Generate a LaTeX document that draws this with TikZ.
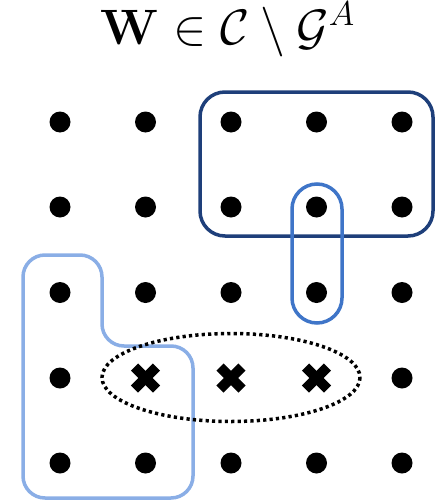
\documentclass[tikz,border=0pt]{standalone}
\usepackage{amsmath,amssymb}
\usepackage{tikz}
\usetikzlibrary{positioning}
\definecolor{GDark}{HTML}{1E3F7A}
\definecolor{GMid}{HTML}{3F75C8}
\definecolor{GLight}{HTML}{8AAEE6}

\begin{document}
\begin{tikzpicture}[
  x=0.5pt,y=-0.5pt,
  dot/.style={circle,fill=black,inner sep=0pt,minimum size=10.5pt},
  cross/.style={line width=5pt,black},
  grp/.style={line width=1.75pt,rounded corners=12.5pt},
  title/.style={font=\fontsize{23.5}{28}\selectfont,anchor=base,inner sep=0pt}
]
  \useasboundingbox (0,0) rectangle (445,503);
  \node[title] (ttl) at (228,44) {$\mathbf{W}\in\mathcal{C}\setminus\mathcal{G}^{A}$};
  % grid of dots, the middle row holds the crosses
  \foreach \i/\x in {1/60,2/145.5,3/231,4/316.5,5/402}
    \foreach \j/\y in {1/122,2/207,3/292.5,4/378,5/463}
      {\coordinate (p\i\j) at (\x,\y);
       \ifnum\j=4 \ifnum\i>1 \ifnum\i<5 \def\skipdot{1}\else\def\skipdot{0}\fi\else\def\skipdot{0}\fi\else\def\skipdot{0}\fi
       \ifnum\skipdot=0 \node[dot] (d\i\j) at (p\i\j) {};\fi}
  \foreach \i in {2,3,4}
    {\draw[cross] ([shift={(-11,-11)}]p\i4) -- ([shift={(11,11)}]p\i4);
     \draw[cross] ([shift={(-11,11)}]p\i4) -- ([shift={(11,-11)}]p\i4);}
  % groups
  \draw[grp,GDark] (200,92) rectangle (433,236);
  \draw[grp,GMid] (292,184) rectangle (342,323);
  \draw[grp,GLight,rounded corners=11pt] (23,498) -- (23,255) -- (102,255)
    -- (102,346) -- (193,346) -- (193,498) -- cycle;
  \draw[line width=1.75pt,dash pattern=on 1.6pt off 1.6pt] (231,377.5) ellipse [x radius=129,y radius=44];
\end{tikzpicture}
\end{document}
